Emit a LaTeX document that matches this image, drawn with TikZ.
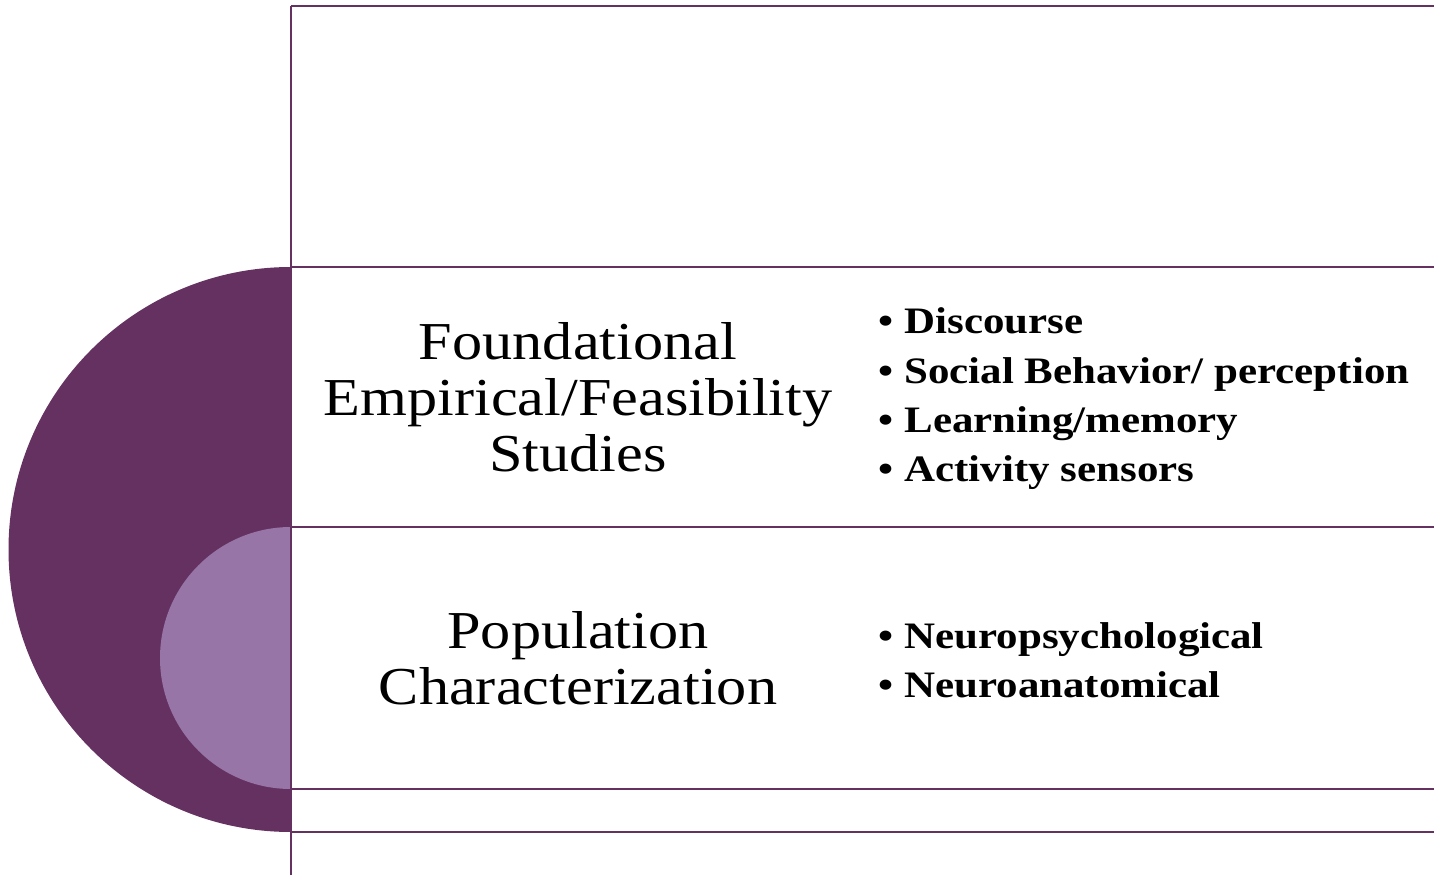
\documentclass[tikz,border=0pt]{standalone}
\usepackage{fontspec}
\setmainfont{Liberation Serif}
\newfontfamily\headfont[FakeStretch=1.13]{Liberation Serif}
\newfontfamily\listfont[FakeStretch=1.15]{Liberation Serif}
\definecolor{plum}{RGB}{100,49,97}
\definecolor{lilac}{RGB}{151,117,166}

\begin{document}
\begin{tikzpicture}[x=0.75pt, y=0.75pt,
  rule/.style={draw=plum, line width=2pt},
  heading/.style={align=center, font=\headfont\fontsize{40}{42}\selectfont},
  points/.style={anchor=west, align=left, font=\listfont\bfseries\fontsize{28}{37}\selectfont}]

\useasboundingbox (0,0) rectangle (1434,875);

% half discs on the left
\fill[plum] (291,608) arc[start angle=90, end angle=270, radius=282.5] -- cycle;
\fill[lilac] (291,348) arc[start angle=90, end angle=270, radius=131] -- cycle;

% frame lines
\draw[rule] (291,0) -- (291,869);
\draw[rule] (291,869) -- (1434,869);
\draw[rule] (291,608) -- (1434,608);
\draw[rule] (291,348) -- (1434,348);
\draw[rule] (291,86) -- (1434,86);
\draw[rule] (291,43) -- (1434,43);

% first band
\node[heading] (studies) at (578,478) {Foundational\\Empirical/Feasibility\\Studies};
\node[points] (studylist) at (874,476) {• Discourse\\• Social Behavior/ perception\\• Learning/memory\\• Activity sensors};

% second band
\node[heading] (population) at (578,217) {Population\\Characterization};
\node[points] (poplist) at (874,215) {• Neuropsychological\\• Neuroanatomical};

\end{tikzpicture}
\end{document}
